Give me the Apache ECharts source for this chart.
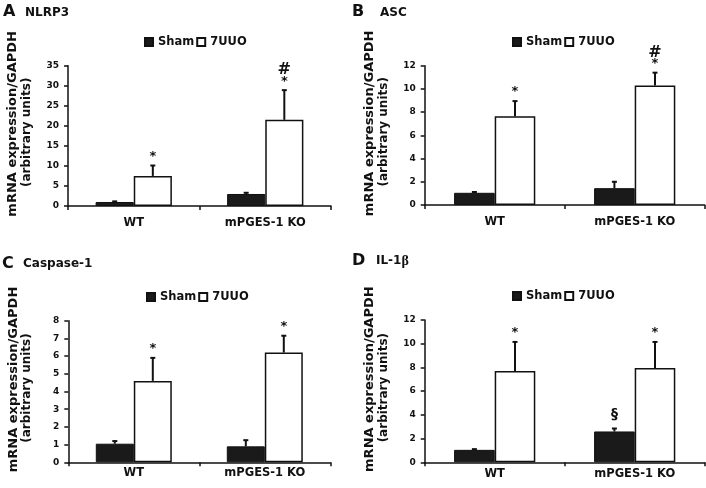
<!DOCTYPE html>
<html>
<head>
<meta charset="utf-8">
<script src="https://cdn.jsdelivr.net/npm/echarts@6/dist/echarts.min.js"></script>
<style>
html,body{margin:0;padding:0;background:#fff;}
#chart{width:706px;height:488px;}
</style>
</head>
<body>
<div id="chart"></div>
<script>
// ---- data ----
const categories = ['WT', 'mPGES-1 KO'];
const seriesNames = ['Sham', '7UUO'];
const panelLetters = ['A', 'B', 'C', 'D'];
const geneNames = ['NLRP3', 'ASC', 'Caspase-1', 'IL-1β'];
const axisMax = [35, 12, 8, 12];
const axisStep = [5, 2, 1, 2];

const shamMeanA = [1.0, 3.0];   const shamSemA = [0.15, 0.3];
const uuoMeanA  = [7.5, 21.5];  const uuoSemA  = [2.6, 7.4];
const shamMarkA = ['', ''];     const uuoMarkA = ['*', '*#'];

const shamMeanB = [1.05, 1.45]; const shamSemB = [0.07, 0.55];
const uuoMeanB  = [7.65, 10.3]; const uuoSemB  = [1.3, 1.1];
const shamMarkB = ['', ''];     const uuoMarkB = ['*', '*#'];

const shamMeanC = [1.05, 0.9];  const shamSemC = [0.15, 0.35];
const uuoMeanC  = [4.6, 6.2];   const uuoSemC  = [1.3, 0.95];
const shamMarkC = ['', ''];     const uuoMarkC = ['*', '*'];

const shamMeanD = [1.05, 2.6];  const shamSemD = [0.06, 0.25];
const uuoMeanD  = [7.7, 7.95];  const uuoSemD  = [2.45, 2.2];
const shamMarkD = ['', '§'];    const uuoMarkD = ['*', '*'];

// ---- layout / style ----
const FONT = 'DejaVu Sans';
const INK = '#111';
const panels = [
  {sham: shamMeanA, shamSem: shamSemA, uuo: uuoMeanA, uuoSem: uuoSemA, shamMark: shamMarkA, uuoMark: uuoMarkA,
   grid: {left: 68, top: 65.7, width: 263, height: 140.3}, legend: {left: 144, top: 36},
   title: {x: 3, y: 4}, gene: {x: 25, y: 7}, labelMargin: 11},
  {sham: shamMeanB, shamSem: shamSemB, uuo: uuoMeanB, uuoSem: uuoSemB, shamMark: shamMarkB, uuoMark: uuoMarkB,
   grid: {left: 424.7, top: 65.7, width: 280, height: 139.3}, legend: {left: 512, top: 36},
   title: {x: 352, y: 4}, gene: {x: 380, y: 7}, labelMargin: 11},
  {sham: shamMeanC, shamSem: shamSemC, uuo: uuoMeanC, uuoSem: uuoSemC, shamMark: shamMarkC, uuoMark: uuoMarkC,
   grid: {left: 68.3, top: 320.7, width: 262, height: 141.6}, legend: {left: 146, top: 291},
   title: {x: 2, y: 256}, gene: {x: 23, y: 258}, labelMargin: 5},
  {sham: shamMeanD, shamSem: shamSemD, uuo: uuoMeanD, uuoSem: uuoSemD, shamMark: shamMarkD, uuoMark: uuoMarkD,
   grid: {left: 424.7, top: 320, width: 280, height: 142.3}, legend: {left: 512, top: 290},
   title: {x: 352, y: 253}, gene: {x: 376, y: 254}, labelMargin: 6}
];

const markOffset = {'*': 9, '#': 20, '§': 14};

function makeErrorRender(marks) {
  return function (params, api) {
    const cat = api.value(0), mean = api.value(1), sem = api.value(2), side = api.value(3);
    const base = api.coord([cat, mean]);
    const top = api.coord([cat, mean + sem]);
    const band = api.size([1, 0])[0];
    const x = base[0] + side * band * 0.145;
    const children = [
      {type: 'line', shape: {x1: x, y1: base[1], x2: x, y2: top[1]}, style: {stroke: INK, lineWidth: 2}},
      {type: 'line', shape: {x1: x - 2.5, y1: top[1], x2: x + 2.5, y2: top[1]}, style: {stroke: INK, lineWidth: 2}}
    ];
    const m = marks[params.dataIndex] || '';
    for (const ch of m) {
      const size = ch === '#' ? 16 : (ch === '§' ? 14 : 13);
      children.push({
        type: 'text',
        style: {text: ch, x: x, y: top[1] - markOffset[ch], align: 'center', verticalAlign: 'middle',
                font: 'bold ' + size + 'px "' + FONT + '"', fill: INK}
      });
    }
    return {type: 'group', children: children};
  };
}

const option = {
  animation: false,
  textStyle: {fontFamily: FONT, color: INK},
  title: [], legend: [], grid: [], xAxis: [], yAxis: [], series: []
};

panels.forEach((p, i) => {
  option.title.push({text: panelLetters[i], left: p.title.x, top: p.title.y, padding: 0,
    textStyle: {fontFamily: FONT, fontSize: 16, fontWeight: 'bold', color: INK}});
  const gene = geneNames[i];
  const geneText = gene.indexOf('β') >= 0 ? '{t|' + gene.replace('β', '') + '}{g|β}' : '{t|' + gene + '}';
  option.title.push({text: geneText, left: p.gene.x, top: p.gene.y, padding: 0,
    textStyle: {rich: {
      t: {fontFamily: FONT, fontSize: 12, fontWeight: 'bold', color: INK},
      g: {fontFamily: 'Liberation Serif', fontSize: 14, color: INK}
    }}});
  option.legend.push({data: seriesNames, left: p.legend.left, top: p.legend.top, padding: 0,
    itemWidth: 8, itemHeight: 8, itemGap: 2, icon: 'rect', selectedMode: false,
    textStyle: {fontFamily: FONT, fontSize: 11.5, fontWeight: 'bold', color: INK}});
  option.grid.push(Object.assign({containLabel: false, outerBoundsMode: 'none'}, p.grid));
  option.xAxis.push({type: 'category', gridIndex: i, data: categories,
    axisLine: {lineStyle: {color: INK, width: 1.5}},
    axisTick: {show: true, length: 4, lineStyle: {color: INK, width: 1.5}},
    axisLabel: {fontFamily: FONT, fontSize: 11.5, fontWeight: 'bold', color: INK, margin: p.labelMargin}});
  option.yAxis.push({type: 'value', gridIndex: i, min: 0, max: axisMax[i], interval: axisStep[i],
    splitLine: {show: false},
    axisLine: {show: true, lineStyle: {color: INK, width: 1.5}},
    axisTick: {show: true, length: 4, lineStyle: {color: INK, width: 1.5}},
    axisLabel: {fontFamily: FONT, fontSize: 9, fontWeight: 'bold', color: INK, margin: 9},
    name: '{a|mRNA expression/GAPDH}\n{b|(arbitrary units)}',
    nameLocation: 'middle', nameRotate: 90, nameGap: 34,
    nameTextStyle: {rich: {
      a: {fontFamily: FONT, fontSize: 13, fontWeight: 'bold', color: INK, lineHeight: 14, padding: [0, 0, 0, 24]},
      b: {fontFamily: FONT, fontSize: 12, fontWeight: 'bold', color: INK, lineHeight: 14, padding: [0, 0, 0, 7]}
    }}});
  option.series.push({type: 'bar', name: seriesNames[0], xAxisIndex: i, yAxisIndex: i, data: p.sham,
    barGap: '0%', barCategoryGap: '42%',
    itemStyle: {color: '#1a1a1a', borderColor: INK, borderWidth: 1}, emphasis: {disabled: true}});
  option.series.push({type: 'bar', name: seriesNames[1], xAxisIndex: i, yAxisIndex: i, data: p.uuo,
    barGap: '0%', barCategoryGap: '42%',
    itemStyle: {color: '#ffffff', borderColor: INK, borderWidth: 1.5}, emphasis: {disabled: true}});
  const errData = [], marks = [];
  categories.forEach((c, j) => { errData.push([j, p.sham[j], p.shamSem[j], -1]); marks.push(p.shamMark[j]); });
  categories.forEach((c, j) => { errData.push([j, p.uuo[j], p.uuoSem[j], 1]); marks.push(p.uuoMark[j]); });
  option.series.push({type: 'custom', name: 'err' + i, xAxisIndex: i, yAxisIndex: i, z: 5,
    data: errData, encode: {x: 0, y: 1}, renderItem: makeErrorRender(marks), silent: true});
});

const chart = echarts.init(document.getElementById('chart'), null, {renderer: 'canvas'});
chart.setOption(option);
</script>
</body>
</html>
